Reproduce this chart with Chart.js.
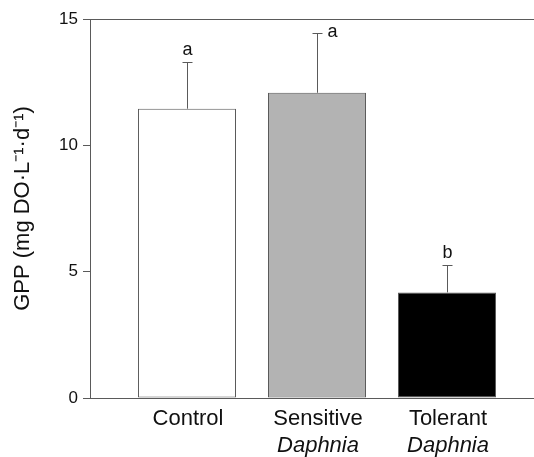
<!DOCTYPE html>
<html>
<head>
<meta charset="utf-8">
<script src="https://cdn.jsdelivr.net/npm/chart.js@4"></script>
<style>
  body { margin: 0; background: #fff; }
  #wrap { width: 534px; height: 457px; position: relative; }
</style>
</head>
<body>
<div id="wrap"><canvas id="gppChart"></canvas></div>
<script>
// data
const groups = ['Control', 'Sensitive', 'Tolerant'];
const subLabels = ['', 'Daphnia', 'Daphnia'];
const gppMeans = [11.45, 12.08, 4.18];
const gppErrors = [1.86, 2.38, 1.07];
const letters = ['a', 'a', 'b'];
const barColors = ['#ffffff', '#b3b3b3', '#000000'];
const yTicks = [0, 5, 10, 15];

const lineColor = '#5a5a5a';
const fontFamily = '"Liberation Sans", Arial, Helvetica, sans-serif';

// error bars, significance letters, top frame line and the two-line category labels
const extrasPlugin = {
  id: 'extras',
  afterDatasetsDraw(chart) {
    const ctx = chart.ctx;
    const x = chart.scales.x;
    const y = chart.scales.y;
    const area = chart.chartArea;
    ctx.save();
    ctx.strokeStyle = lineColor;
    ctx.lineWidth = 1;

    // top frame line
    ctx.beginPath();
    ctx.moveTo(area.left - 7, Math.round(area.top) + 0.5);
    ctx.lineTo(area.right, Math.round(area.top) + 0.5);
    ctx.stroke();

    gppMeans.forEach((m, i) => {
      const cx = Math.round(x.getPixelForValue(i + 1)) + 0.5;
      const yTop = y.getPixelForValue(m);
      const yErr = Math.round(y.getPixelForValue(m + gppErrors[i])) + 0.5;
      ctx.beginPath();
      ctx.moveTo(cx, yTop);
      ctx.lineTo(cx, yErr);
      ctx.moveTo(cx - 5, yErr);
      ctx.lineTo(cx + 5, yErr);
      ctx.stroke();

      // letter above the cap, or beside it if there is no room
      ctx.fillStyle = '#111';
      ctx.font = '18px ' + fontFamily;
      if (yErr - 22 < area.top) {
        ctx.textAlign = 'left';
        ctx.fillText(letters[i], cx + 10, yErr + 3);
      } else {
        ctx.textAlign = 'center';
        ctx.fillText(letters[i], cx, yErr - 8);
      }
    });

    // category labels
    ctx.fillStyle = '#111';
    ctx.textAlign = 'center';
    ctx.textBaseline = 'alphabetic';
    groups.forEach((g, i) => {
      const cx = x.getPixelForValue(i + 1) + 1;
      ctx.font = '22px ' + fontFamily;
      ctx.fillText(g, cx, area.bottom + 27);
      if (subLabels[i]) {
        ctx.font = 'italic 22px ' + fontFamily;
        ctx.fillText(subLabels[i], cx, area.bottom + 54);
      }
    });
    ctx.restore();
  }
};

const ctx = document.getElementById('gppChart').getContext('2d');
new Chart(ctx, {
  type: 'bar',
  data: {
    datasets: [{
      label: 'GPP',
      data: gppMeans.map((v, i) => ({ x: i + 1, y: v })),
      backgroundColor: barColors,
      borderColor: lineColor,
      borderWidth: 1,
      borderSkipped: false,
      barPercentage: 0.754,
      categoryPercentage: 1
    }]
  },
  options: {
    responsive: true,
    maintainAspectRatio: false,
    animation: false,
    layout: { padding: { top: 19, right: 0, bottom: 0, left: 0 } },
    plugins: {
      legend: { display: false },
      tooltip: { enabled: false }
    },
    scales: {
      x: {
        type: 'linear',
        min: 0.254,
        max: 3.669,
        offset: false,
        afterBuildTicks(scale) { scale.ticks = groups.map((g, i) => ({ value: i + 1 })); },
        ticks: { display: false },
        grid: { display: false, offset: false },
        border: { display: true, color: lineColor, width: 1 },
        afterFit(scale) { scale.height = 59; }
      },
      y: {
        min: 0,
        max: 15,
        afterBuildTicks(scale) { scale.ticks = yTicks.map(v => ({ value: v })); },
        ticks: {
          color: '#111',
          padding: 5,
          font: { family: fontFamily, size: 17 }
        },
        grid: {
          drawOnChartArea: false,
          drawTicks: true,
          tickLength: 7,
          color: lineColor
        },
        border: { display: true, color: lineColor, width: 1 },
        title: {
          display: true,
          text: 'GPP (mg DO·L⁻¹·d⁻¹)',
          color: '#111',
          font: { family: fontFamily, size: 22 },
          padding: { top: 10, bottom: 0 }
        },
        afterFit(scale) { scale.width = 90; }
      }
    }
  },
  plugins: [extrasPlugin]
});
</script>
</body>
</html>
